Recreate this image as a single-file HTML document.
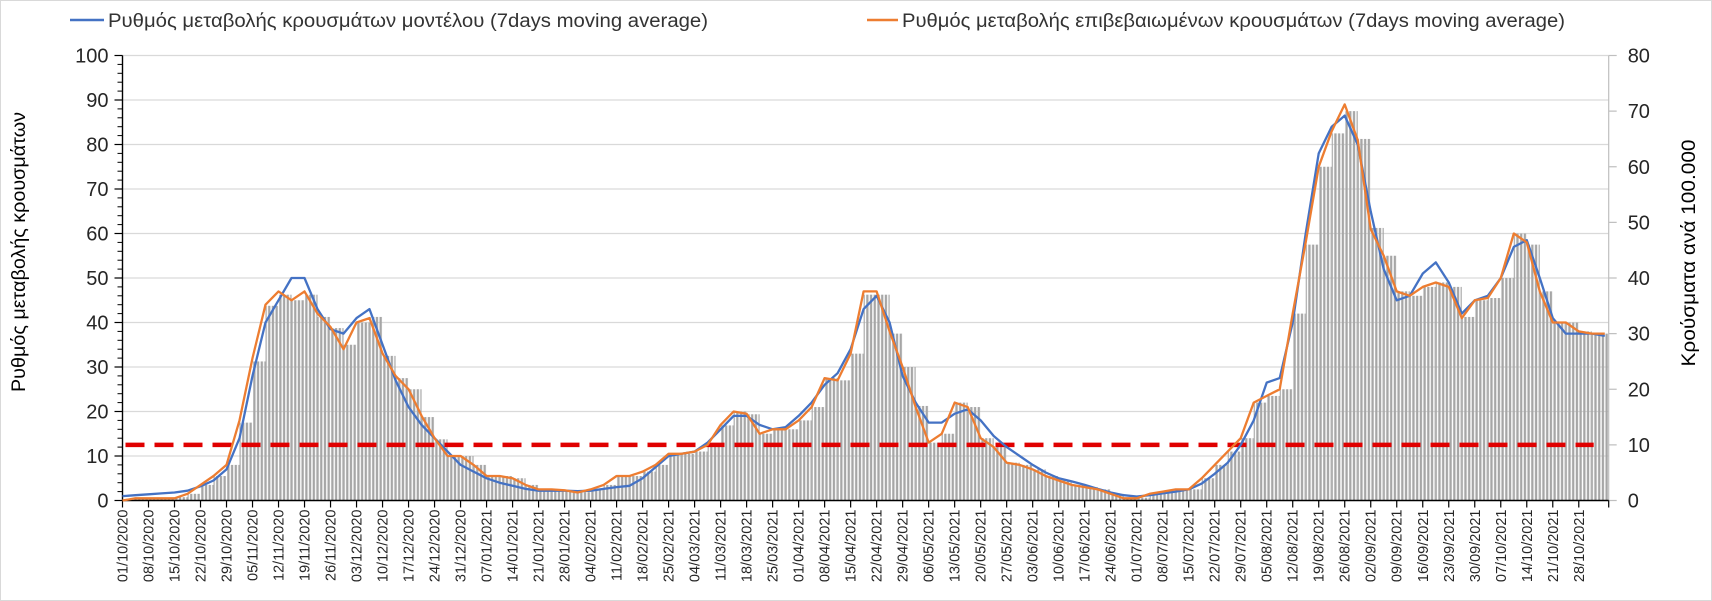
<!DOCTYPE html>
<html><head><meta charset="utf-8">
<style>
html,body{margin:0;padding:0;background:#fff;}
svg{display:block;font-family:"Liberation Sans","DejaVu Sans",sans-serif;}
</style></head>
<body>
<svg id="chart" width="1712" height="601" viewBox="0 0 1712 601">
<defs>
<pattern id="stripes" patternUnits="userSpaceOnUse" x="122.5" y="0" width="3.715" height="10">
<rect x="0.7" y="0" width="2.3" height="10" fill="#a6a6a6"/>
</pattern>
</defs>
<rect x="0.5" y="0.5" width="1711" height="600" fill="#fff" stroke="#d9d9d9"/>
<g id="grid"></g>
<g id="bars"></g>
<g id="axes"></g>
<g id="lines"></g>
<g>
<line x1="70" y1="20" x2="104" y2="20" stroke="#4472c4" stroke-width="2.5"/>
<text x="108" y="27" font-size="19" textLength="600" lengthAdjust="spacingAndGlyphs" fill="#333">Ρυθμός μεταβολής κρουσμάτων μοντέλου (7days moving average)</text>
<line x1="867" y1="20" x2="898" y2="20" stroke="#ed7d31" stroke-width="2.5"/>
<text x="902" y="27" font-size="19" textLength="663" lengthAdjust="spacingAndGlyphs" fill="#333">Ρυθμός μεταβολής επιβεβαιωμένων κρουσμάτων (7days moving average)</text>
</g>
<text transform="translate(25,252) rotate(-90)" text-anchor="middle" font-size="19" textLength="280" lengthAdjust="spacingAndGlyphs" fill="#000">Ρυθμός μεταβολής κρουσμάτων</text>
<text transform="translate(1695,253) rotate(-90)" text-anchor="middle" font-size="19" textLength="227" lengthAdjust="spacingAndGlyphs" fill="#000">Κρούσματα ανά 100.000</text>
</svg>
<script>
const days = [0,3.5,7,10.5,14,17.5,21,24.5,28,31.5,35,38.5,42,45.5,49,52.5,56,59.5,63,66.5,70,73.5,77,80.5,84,87.5,91,94.5,98,101.5,105,108.5,112,115.5,119,122.5,126,129.5,133,136.5,140,143.5,147,150.5,154,157.5,161,164.5,168,171.5,175,178.5,182,185.5,189,192.5,196,199.5,203,206.5,210,213.5,217,220.5,224,227.5,231,234.5,238,241.5,245,248.5,252,255.5,259,262.5,266,269.5,273,276.5,280,283.5,287,290.5,294,297.5,301,304.5,308,311.5,315,318.5,322,325.5,329,332.5,336,339.5,343,346.5,350,353.5,357,360.5,364,367.5,371,374.5,378,381.5,385,388.5,392,395.5,399];
const modelRate = [1.0,1.2,1.4,1.6,1.8,2.2,3.2,4.5,7,14,28,40,45,50,50,43,38.5,37.5,41,43,35,27,21,17,14,11,8,6.5,5,4,3.3,2.6,2.2,2.2,2.2,2.1,2.2,2.6,3,3.3,5,7.5,10,10.5,11,13,16,19,19,17,16,16.5,19,22,26,28.6,34,43,46,40,28,22,17.5,17.5,19.5,20.5,18,14.5,12,10,8,6.3,5,4.3,3.5,2.6,1.8,1.2,0.9,1.2,1.6,2,2.5,3.8,6,8.5,12.5,18,26.5,27.5,40,60,78,84,86.5,80,65,52,45,46,51,53.5,49,42,45,46,50,57,58.5,50,41,37.5,37.5,37.5,37];
const confirmedRate = [0,0.5,0.5,0.5,0.5,1.5,3.5,5.5,8,18,32,44,47,45,47,42,39,34,40,41,33,28,25,19,14,10,10,8,5.5,5.5,5,3.5,2.5,2.5,2.3,1.8,2.5,3.5,5.5,5.5,6.5,8,10.5,10.5,11,12.5,17,20,19.5,15,16,16,18,21,27.5,27,33,47,47,38,30,21,13,15,22,21,14,12,8.5,8,7,5.5,4.5,3.5,3,2.5,1.5,0.5,0.5,1.5,2,2.5,2.5,5,8,11,14,22,23.5,25,42,58,75,83,89,81,61,55,47,46,48,49,48,41,45,45.5,50,60,58,47,40,40,38,37.5,37.5];
const casesPer100k = [0.2,0.4,0.4,0.5,0.6,1.2,2.8,4.4,6.4,14,25,35,37,36,37,33,31,28,32,33,26,22,20,15,11,8,8,6.4,4.4,4.4,4,2.8,2,2,1.8,1.5,2,2.8,4.4,4.4,5.2,6.4,8.4,8.4,8.8,10,13.5,16,15.5,12,12.8,12.8,14.4,16.8,22,21.6,26.4,37,37,30,24,17,10.4,12,17.6,16.8,11.2,9.6,6.8,6.4,5.6,4.4,3.6,2.8,2.4,2,1.2,0.5,0.5,1.2,1.6,2,2,4,6.4,8.8,11.2,17.6,18.8,20,33.6,46,60,66,70,65,49,44,37.6,36.8,38.4,39.2,38.4,33,36,36.4,40,48,46,37.6,32,32,30.4,30,30];
const leftTicks = [0,10,20,30,40,50,60,70,80,90,100];
const rightTicks = [0,10,20,30,40,50,60,70,80];
const dateLabels = ["01/10/2020","08/10/2020","15/10/2020","22/10/2020","29/10/2020","05/11/2020","12/11/2020","19/11/2020","26/11/2020","03/12/2020","10/12/2020","17/12/2020","24/12/2020","31/12/2020","07/01/2021","14/01/2021","21/01/2021","28/01/2021","04/02/2021","11/02/2021","18/02/2021","25/02/2021","04/03/2021","11/03/2021","18/03/2021","25/03/2021","01/04/2021","08/04/2021","15/04/2021","22/04/2021","29/04/2021","06/05/2021","13/05/2021","20/05/2021","27/05/2021","03/06/2021","10/06/2021","17/06/2021","24/06/2021","01/07/2021","08/07/2021","15/07/2021","22/07/2021","29/07/2021","05/08/2021","12/08/2021","19/08/2021","26/08/2021","02/09/2021","09/09/2021","16/09/2021","23/09/2021","30/09/2021","07/10/2021","14/10/2021","21/10/2021","28/10/2021"];
const thresholdRate = 12.5;

const NS="http://www.w3.org/2000/svg";
const X0=122.5, X1=1608.7, Y0=500.5, Y100=55.5, DAYPX=3.715;
const xScale = d => X0 + d*DAYPX;
const yLeft = v => Y0 - (v/100)*(Y0-Y100);
const yRight = v => Y0 - (v/80)*(Y0-Y100);
function mk(tag, attrs, parent){const e=document.createElementNS(NS,tag);for(const k in attrs)e.setAttribute(k,attrs[k]);parent.appendChild(e);return e;}
const grid=document.getElementById('grid'), axes=document.getElementById('axes'), bars=document.getElementById('bars'), lines=document.getElementById('lines');

leftTicks.forEach(t=>{
  const y=yLeft(t);
  if(t>0){const g=mk('line',{x1:X0,x2:X1,y1:y,y2:y,stroke:'#d9d9d9','stroke-width':1.2},grid);
  
  }
  mk('line',{x1:X0-8,x2:X0,y1:y,y2:y,stroke:'#000','stroke-width':1.2},axes);
  const tx=mk('text',{x:X0-14,y:y+7,'text-anchor':'end','font-size':20,fill:'#262626'},axes);
  tx.textContent=t;
  
  
});
for(let m=0;m<100;m+=2){ if(m%10===0) continue; const y=yLeft(m); mk('line',{x1:X0-5,x2:X0,y1:y,y2:y,stroke:'#000','stroke-width':1},axes);}
rightTicks.forEach(t=>{
  const y=yRight(t);
  mk('line',{x1:X1,x2:X1+8,y1:y,y2:y,stroke:'#bfbfbf','stroke-width':1.2},axes);
  const tx=mk('text',{x:X1+19,y:y+7,'font-size':20,fill:'#262626'},axes);
  tx.textContent=t;
  
  
});
mk('line',{x1:X1,x2:X1,y1:Y100,y2:Y0,stroke:'#bfbfbf','stroke-width':1.2},axes);

casesPer100k.forEach((v,i)=>{
  const xa=xScale(days[i]), xb=xScale(i+1<days.length?days[i+1]:400);
  const r=mk('rect',{x:xa,y:yRight(v),width:Math.max(0,Math.min(xb,X1)-xa),height:Y0-yRight(v),fill:'url(#stripes)'},bars);
  
  
});

mk('line',{x1:X0,x2:X0,y1:Y100,y2:Y0,stroke:'#000','stroke-width':1.4},axes);
mk('line',{x1:X0,x2:X1,y1:Y0,y2:Y0,stroke:'#000','stroke-width':1.4},axes);
dateLabels.forEach((lab,i)=>{
  const x=xScale(i*7);
  mk('line',{x1:x,x2:x,y1:Y0,y2:Y0+7,stroke:'#000','stroke-width':1.2},axes);
  const tx=mk('text',{transform:`translate(${x+5},${Y0+9}) rotate(-90)`,'text-anchor':'end','font-size':14.5,fill:'#262626'},axes);
  tx.textContent=lab;
  
  
});
mk('line',{x1:X1,x2:X1,y1:Y0,y2:Y0+7,stroke:'#000','stroke-width':1.2},axes);

const th=mk('line',{x1:X0+3,x2:X1-15,y1:yLeft(thresholdRate),y2:yLeft(thresholdRate),stroke:'#e00000','stroke-width':4.5,'stroke-dasharray':'19 10'},lines);



function path(arr){return arr.map((v,i)=>(i?'L':'M')+xScale(days[i]).toFixed(1)+','+yLeft(v).toFixed(1)).join(' ');}
const pm=mk('path',{d:path(modelRate),fill:'none',stroke:'#4472c4','stroke-width':2.3,'stroke-linejoin':'round'},lines);


const pc=mk('path',{d:path(confirmedRate),fill:'none',stroke:'#ed7d31','stroke-width':2.3,'stroke-linejoin':'round'},lines);


</script>
</body></html>
